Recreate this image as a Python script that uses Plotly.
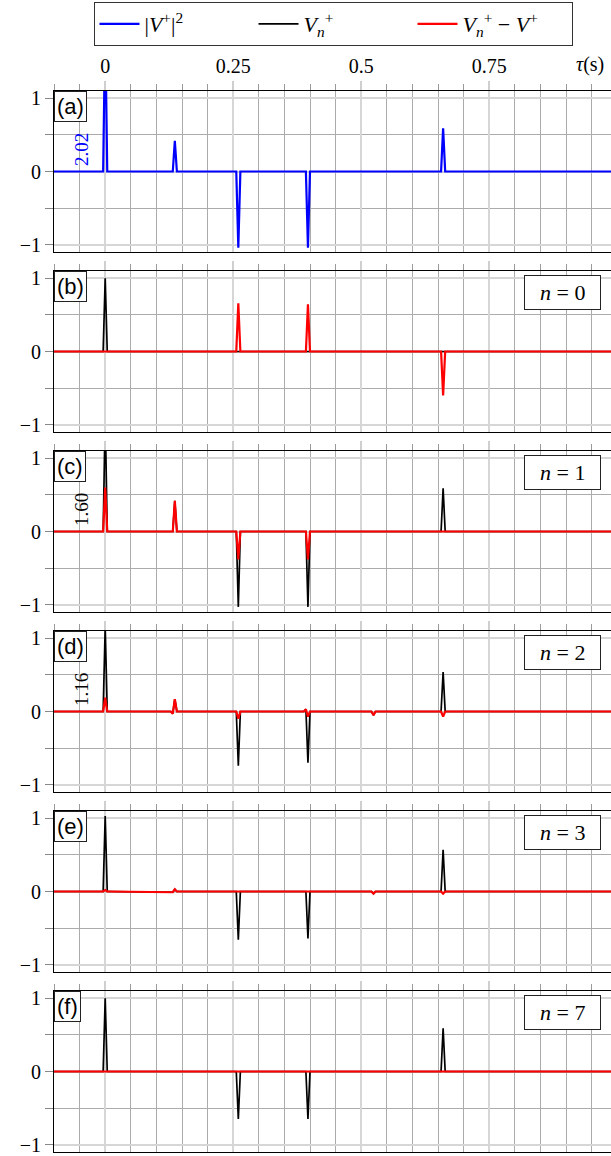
import numpy as np
import plotly.graph_objects as go

# ---------------- data ----------------
dt = 0.004            # sample spacing (s)
t_start, t_end = -0.1, 1.0

# panel (a): |V+|^2
a_blue_times = [0.0, 0.136, 0.260, 0.396, 0.660]
a_blue_vals = [2.02, 0.42, -1.04, -1.04, 0.59]

# panel (b): n = 0
b_black_times = [0.0]
b_black_vals = [1.0]
b_red_times = [0.260, 0.396, 0.660]
b_red_vals = [0.66, 0.645, -0.60]

# panel (c): n = 1
c_black_times = [0.0, 0.136, 0.260, 0.396, 0.660]
c_black_vals = [1.60, 0.42, -1.03, -1.03, 0.59]
c_red_times = [0.0, 0.136, 0.260, 0.396]
c_red_vals = [0.60, 0.42, -0.38, -0.38]

# panel (d): n = 2
d_black_times = [0.0, 0.132, 0.136, 0.260, 0.392, 0.396, 0.524, 0.660]
d_black_vals = [1.16, -0.03, 0.17, -0.74, 0.03, -0.70, -0.05, 0.54]
d_red_times = [0.0, 0.132, 0.136, 0.260, 0.392, 0.396, 0.524, 0.660]
d_red_vals = [0.19, -0.03, 0.17, -0.10, 0.03, -0.07, -0.05, -0.07]

# panel (e): n = 3
e_black_times = [0.0, 0.132, 0.136, 0.260, 0.396, 0.524, 0.660]
e_black_vals = [1.03, -0.01, 0.03, -0.66, -0.64, -0.03, 0.57]
e_red_times = [0.0, 0.132, 0.136, 0.524, 0.660]
e_red_vals = [0.02, -0.01, 0.03, -0.03, -0.03]

# panel (f): n = 7
f_black_times = [0.0, 0.260, 0.396, 0.660]
f_black_vals = [1.0, -0.65, -0.65, 0.59]
f_red_times = []
f_red_vals = []

panel_letters = ["(a)", "(b)", "(c)", "(d)", "(e)", "(f)"]
n_labels = [None, "0", "1", "2", "3", "7"]
clip_labels = ["2.02", None, "1.60", "1.16", None, None]
clip_colors = ["#0000ff", None, "#000000", "#000000", None, None]

x_major_ticks = [0, 0.25, 0.5, 0.75]
x_major_text = ["0", "0.25", "0.5", "0.75"]
y_major_ticks = [-1, 0, 1]

# ---------------- helpers ----------------
t = np.round(np.arange(t_start, t_end + dt / 2, dt), 6)


def series(times, vals):
    y = np.zeros_like(t)
    for tt, vv in zip(times, vals):
        y[int(round((tt - t_start) / dt))] = vv
    return y


BLUE = "#0000ff"
BLACK = "#000000"
RED = "#ff0000"

panels = [
    [(a_blue_times, a_blue_vals, BLUE, "|<i>V</i><sup>+</sup>|<sup>2</sup>")],
    [(b_black_times, b_black_vals, BLACK, "<i>V</i><sub><i>n</i></sub><sup>+</sup>"),
     (b_red_times, b_red_vals, RED, "<i>V</i><sub><i>n</i></sub><sup>+</sup> \u2212 <i>V</i><sup>+</sup>")],
    [(c_black_times, c_black_vals, BLACK, None), (c_red_times, c_red_vals, RED, None)],
    [(d_black_times, d_black_vals, BLACK, None), (d_red_times, d_red_vals, RED, None)],
    [(e_black_times, e_black_vals, BLACK, None), (e_red_times, e_red_vals, RED, None)],
    [(f_black_times, f_black_vals, BLACK, None), (f_red_times, f_red_vals, RED, None)],
]

W, H = 611, 1156
ML, MR, MT, MB = 54, 0, 91, 3
PH = H - MT - MB
PW = W - ML - MR
panel_h = 161
panel_step = 180

fig = go.Figure()
SERIF = "Liberation Serif"
SANS = "Liberation Sans"
NB = "\u00a0"

for k, traces in enumerate(panels):
    sfx = "" if k == 0 else str(k + 1)
    for times, vals, col, name in traces:
        fig.add_trace(go.Scatter(
            x=t, y=series(times, vals), mode="lines",
            line=dict(color=col, width=2.2 if col != BLACK else 1.7),
            name=name if name else "", showlegend=name is not None,
            xaxis="x" + sfx, yaxis="y" + sfx, hoverinfo="skip"))

    top = 1 - (panel_step * k) / PH
    bot = top - panel_h / PH
    fig.layout["xaxis" + sfx] = dict(
        domain=[0, 1], anchor="y" + sfx, range=[-0.1, PW / 512 - 0.1],
        side="top", tickmode="array", tickvals=x_major_ticks, ticktext=x_major_text,
        ticks="outside", ticklen=9, tickwidth=2, tickcolor="#cfcfcf",
        showticklabels=(k == 0), tickfont=dict(family=SERIF, size=20, color="black"),
        showgrid=True, gridcolor="#d6d6d6", gridwidth=2,
        minor=dict(dtick=0.05, tick0=0, ticks="outside", ticklen=6, tickwidth=1,
                   tickcolor="#9a9a9a", showgrid=True, gridcolor="#ababab", gridwidth=1),
        showline=True, linecolor="black", linewidth=1, mirror=True,
        zeroline=False, fixedrange=True)
    fig.layout["yaxis" + sfx] = dict(
        domain=[max(bot, 0), top], anchor="x" + sfx, range=[-1.1, 1.1],
        tickmode="array", tickvals=y_major_ticks,
        ticks="outside", ticklen=8, tickwidth=1, tickcolor="#888888",
        tickfont=dict(family=SERIF, size=20, color="black"),
        showgrid=True, gridcolor="#d6d6d6", gridwidth=2,
        minor=dict(dtick=0.5, tick0=0, ticks="outside", ticklen=8, tickwidth=1,
                   tickcolor="#888888", showgrid=True, gridcolor="#ababab", gridwidth=1),
        showline=True, linecolor="black", linewidth=1, zeroline=False, fixedrange=True)

    # panel letter
    fig.add_annotation(text=panel_letters[k], xref="x" + sfx + " domain", yref="y" + sfx + " domain",
                       x=0, y=1, xanchor="left", yanchor="top", showarrow=False,
                       font=dict(family=SANS, size=22, color="black"),
                       bgcolor="white", bordercolor="#222", borderwidth=1, borderpad=2)
    # n label
    if n_labels[k] is not None:
        fig.add_annotation(text=NB * 2 + "<i>n</i> = " + n_labels[k] + NB * 2,
                           xref="x" + sfx + " domain", yref="y" + sfx + " domain",
                           x=(601 - ML) / PW, y=1 - 4 / panel_h,
                           xanchor="right", yanchor="top", showarrow=False,
                           font=dict(family=SERIF, size=22, color="black"),
                           bgcolor="white", bordercolor="#222", borderwidth=1, borderpad=4)
    # clipped peak value
    if clip_labels[k] is not None:
        fig.add_annotation(text=clip_labels[k], xref="x" + sfx, yref="y" + sfx,
                           x=0, y=0.05, xanchor="right", yanchor="bottom", xshift=-11,
                           textangle=-90, showarrow=False,
                           font=dict(family=SERIF, size=19, color=clip_colors[k]))

# axis title tau(s)
fig.add_annotation(text="<i>\u03c4</i>(s)", xref="paper", yref="paper",
                   x=(590 - ML) / PW, y=1 + 26 / PH, xanchor="center", yanchor="middle",
                   showarrow=False, font=dict(family=SERIF, size=20, color="black"))

fig.update_layout(
    width=W, height=H, margin=dict(l=ML, r=MR, t=MT, b=MB, pad=0),
    paper_bgcolor="white", plot_bgcolor="white",
    font=dict(family=SERIF, size=20, color="black"),
    showlegend=True,
    legend=dict(orientation="h", x=(333 - ML) / PW, xanchor="center",
                yref="container", y=1 - 2 / H, yanchor="top",
                bordercolor="#333", borderwidth=1, bgcolor="white",
                font=dict(family=SERIF, size=22, color="black"),
                entrywidth=104, itemwidth=40, tracegroupgap=0),
)

fig.write_html("out.html", config={"displayModeBar": False},
               post_script="document.body.style.margin='0';document.body.style.overflow='hidden';")
